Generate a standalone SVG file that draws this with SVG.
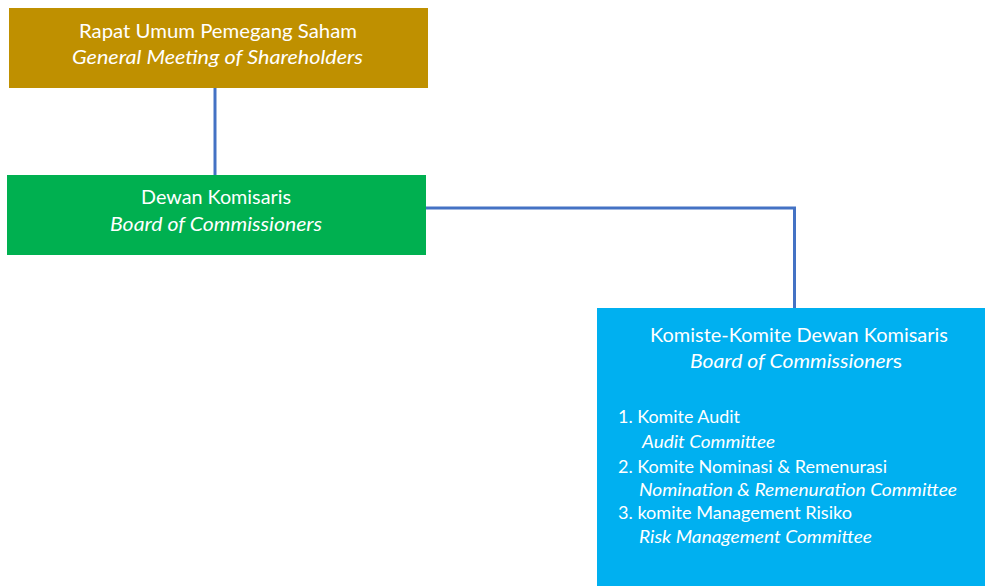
<svg xmlns="http://www.w3.org/2000/svg" width="985" height="586" viewBox="0 0 985 586">
<style>
.t{font-family:Lato,"Open Sans","Liberation Sans",sans-serif;fill:#ffffff}
.b{font-size:19px}
.s{font-size:16.5px}
.i{font-style:italic}
.c{text-anchor:middle}
.conn{fill:none;stroke:#4472C4;stroke-width:3}
</style>
<rect width="985" height="586" fill="#ffffff"/>
<g id="connectors">
<path class="conn" d="M215 88 V175"/>
<path class="conn" d="M426 208 H794.5 V308"/>
</g>
<g id="rups">
<rect x="9" y="8" width="419" height="80" fill="#BF9000"/>
<text class="t b" x="79" y="38" textLength="278" lengthAdjust="spacingAndGlyphs">Rapat Umum Pemegang Saham</text>
<text class="t b i" x="72" y="64" textLength="291" lengthAdjust="spacingAndGlyphs">General Meeting of Shareholders</text>
</g>
<g id="dekom">
<rect x="7" y="175" width="419" height="80" fill="#00B050"/>
<text class="t b" x="141" y="204" textLength="150" lengthAdjust="spacingAndGlyphs">Dewan Komisaris</text>
<text class="t b i" x="110" y="231" textLength="212" lengthAdjust="spacingAndGlyphs">Board of Commissioners</text>
</g>
<g id="komite">
<rect x="597" y="308" width="388" height="278" fill="#00B0F0"/>
<text class="t b" x="650" y="342" textLength="298" lengthAdjust="spacingAndGlyphs">Komiste-Komite Dewan Komisaris</text>
<text class="t b" x="690" y="368" textLength="212" lengthAdjust="spacingAndGlyphs"><tspan class="i">Board of Commissioner</tspan>s</text>
<text class="t s" x="618" y="423" textLength="122" lengthAdjust="spacingAndGlyphs">1. Komite Audit</text>
<text class="t s i" x="642" y="448" textLength="133" lengthAdjust="spacingAndGlyphs">Audit Committee</text>
<text class="t s" x="618" y="473" textLength="269" lengthAdjust="spacingAndGlyphs">2. Komite Nominasi &amp; Remenurasi</text>
<text class="t s i" x="639" y="496" textLength="318" lengthAdjust="spacingAndGlyphs">Nomination &amp; Remenuration Committee</text>
<text class="t s" x="618" y="519" textLength="234" lengthAdjust="spacingAndGlyphs">3. komite Management Risiko</text>
<text class="t s i" x="639" y="543" textLength="233" lengthAdjust="spacingAndGlyphs">Risk Management Committee</text>
</g>
</svg>
